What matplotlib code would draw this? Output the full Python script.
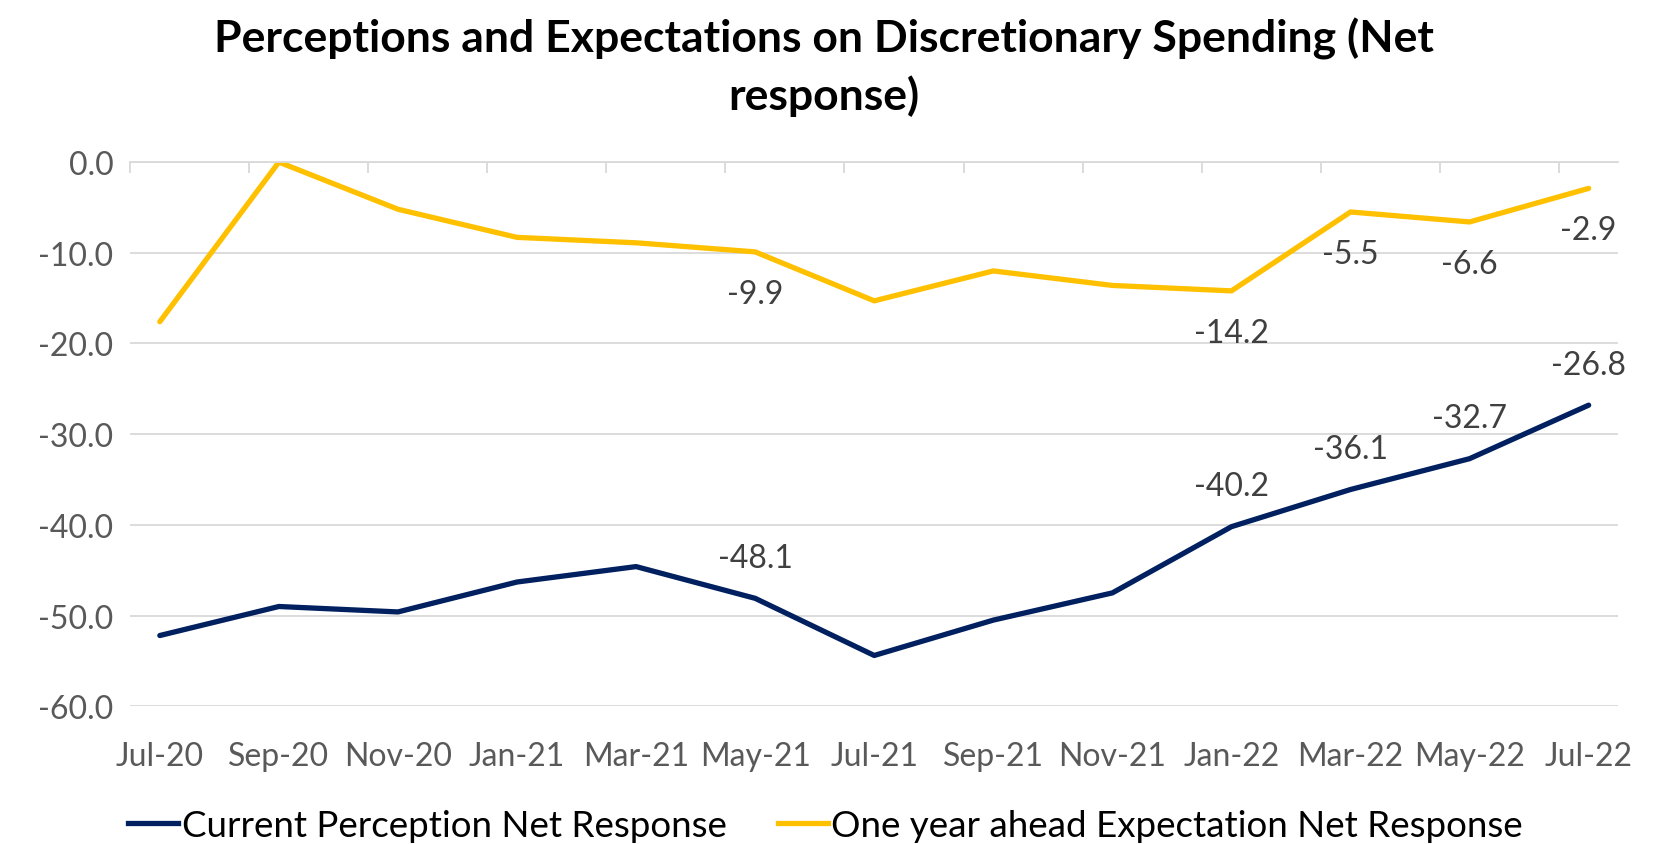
import numpy as np
import matplotlib
matplotlib.use('Agg')
import matplotlib.pyplot as plt
from matplotlib.lines import Line2D

plt.rcParams['font.family'] = ['Lato', 'DejaVu Sans']

# Data ------------------------------------------------------------
months = ['Jul-20', 'Sep-20', 'Nov-20', 'Jan-21', 'Mar-21', 'May-21', 'Jul-21',
          'Sep-21', 'Nov-21', 'Jan-22', 'Mar-22', 'May-22', 'Jul-22']
current = [-52.2, -49.0, -49.6, -46.3, -44.6, -48.1, -54.4,
           -50.5, -47.5, -40.2, -36.1, -32.7, -26.8]
expected = [-17.6, 0.0, -5.2, -8.3, -8.9, -9.9, -15.3,
            -12.0, -13.6, -14.2, -5.5, -6.6, -2.9]
labelled = [5, 9, 10, 11, 12]

blue = '#002060'
gold = '#FFC000'
grey = '#595959'

# Plot ------------------------------------------------------------
fig = plt.figure(figsize=(16.78, 8.45), dpi=100)
ax = fig.add_axes([0.0775, 0.163, 0.887, 0.644])

x = np.arange(len(months))
ax.plot(x, current, color=blue, lw=3.8, solid_capstyle='round', solid_joinstyle='round')
ax.plot(x, expected, color=gold, lw=3.8, solid_capstyle='round', solid_joinstyle='round')

for i in labelled:
    ax.annotate('%.1f' % current[i], (x[i], current[i]), xytext=(0, 29),
                textcoords='offset points', ha='center', va='center',
                fontsize=23, color='#404040')
    ax.annotate('%.1f' % expected[i], (x[i], expected[i]), xytext=(0, -30),
                textcoords='offset points', ha='center', va='center',
                fontsize=23, color='#404040')

ax.set_yticks(np.arange(-60, 1, 10))
ax.set_yticklabels(['%.1f' % v for v in np.arange(-60, 1, 10)])
ax.set_xticks(x)
ax.set_xticklabels(months)
ax.set_xticks(np.arange(-0.25, len(months) - 1, 1.0), minor=True)
ax.set_xlim(-0.25, len(months) - 0.75)
ax.set_ylim(-60, 0)

ax.grid(axis='y', color='#d9d9d9', lw=1.3)
ax.set_axisbelow(True)
for s in ['left', 'right', 'bottom']:
    ax.spines[s].set_visible(False)
ax.spines['top'].set_color('#d9d9d9')
ax.spines['top'].set_linewidth(1.3)

ax.tick_params(axis='y', length=0, pad=12, labelsize=23, labelcolor=grey)
ax.tick_params(axis='x', which='major', length=0, pad=25, labelsize=23, labelcolor=grey)
ax.tick_params(axis='x', which='minor', top=True, bottom=False, direction='in',
               length=8, width=1.3, color='#d9d9d9')

fig.text(0.491, 0.954, 'Perceptions and Expectations on Discretionary Spending (Net',
         ha='center', va='center', fontsize=32, fontweight='bold')
fig.text(0.491, 0.886, 'response)', ha='center', va='center', fontsize=32, fontweight='bold')

handles = [Line2D([], [], color=blue, lw=3.8), Line2D([], [], color=gold, lw=3.8)]
fig.legend(handles, ['Current Perception Net Response', 'One year ahead Expectation Net Response'],
           loc='center', bbox_to_anchor=(0.492, 0.022), ncol=2, frameon=False,
           fontsize=26.5, handlelength=1.35, handletextpad=0.1, columnspacing=1.4,
           labelcolor='black')

plt.savefig('out.png', dpi=100)
